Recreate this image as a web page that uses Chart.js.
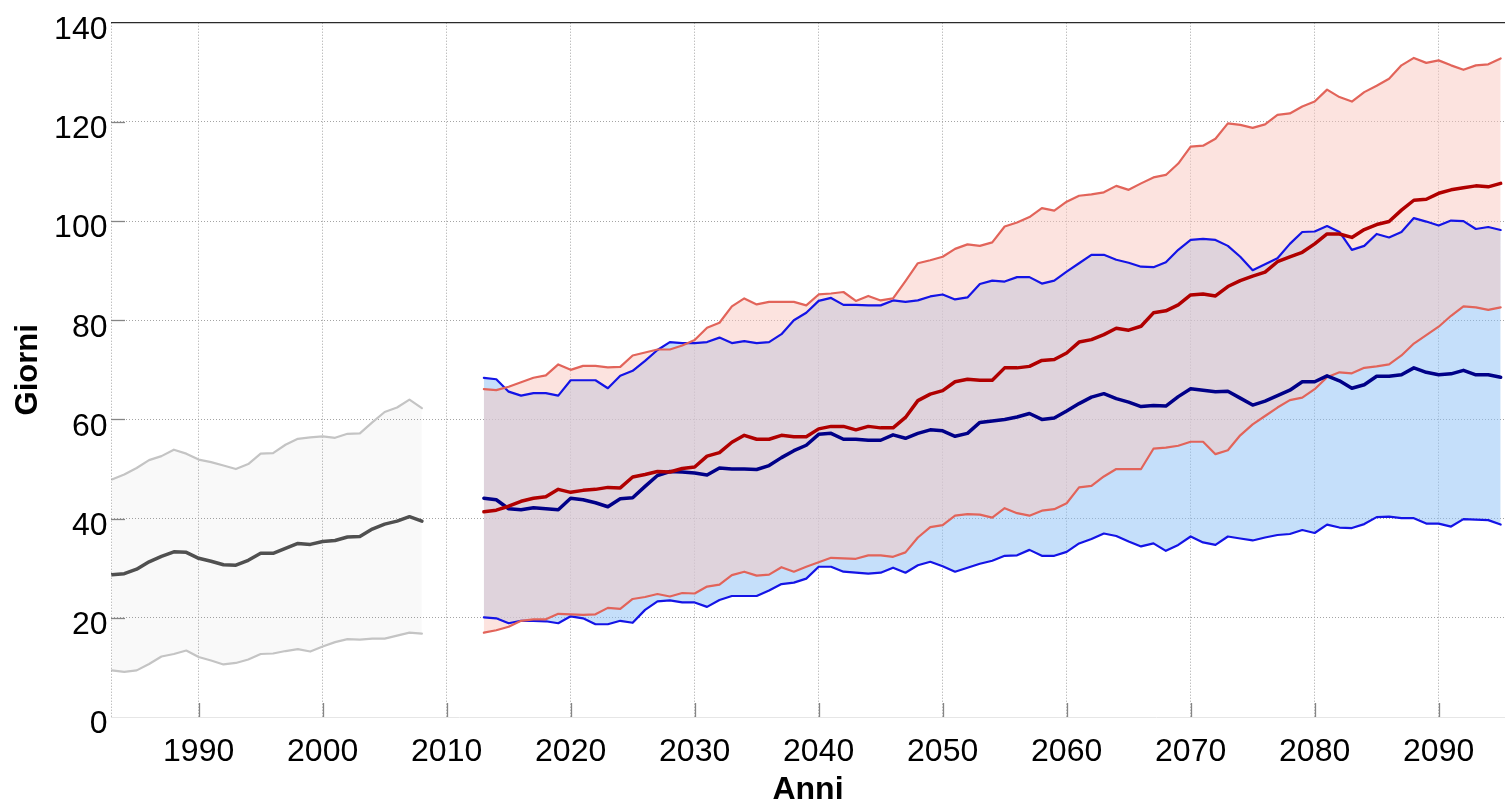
<!DOCTYPE html>
<html>
<head>
<meta charset="utf-8">
<script src="https://cdn.jsdelivr.net/npm/chart.js@4.4.1/dist/chart.umd.min.js"></script>
<style>
    html, body { margin: 0; padding: 0; background: #fff; overflow: hidden; }
    #wrap { position: relative; width: 1505px; height: 803px; }
</style>
</head>
<body>
<div id="wrap"><canvas id="giorniChart"></canvas></div>
<script>
// Observed period 1983-2008
const histStart = 1983, histEnd = 2008;
const histUpper  = [47.9, 48.9, 50.2, 51.8, 52.6, 53.9, 53.1, 51.9, 51.4, 50.7, 50.0, 51.0, 53.1, 53.2, 54.9, 56.1, 56.4, 56.6, 56.3, 57.1, 57.2, 59.4, 61.5, 62.4, 64.0, 62.3];
const histMedian = [28.7, 28.9, 29.8, 31.3, 32.4, 33.3, 33.2, 32.0, 31.4, 30.7, 30.6, 31.6, 33.0, 33.0, 34.0, 35.0, 34.8, 35.4, 35.6, 36.3, 36.4, 37.9, 38.9, 39.5, 40.4, 39.5];
const histLower  = [9.4, 9.1, 9.4, 10.7, 12.2, 12.7, 13.4, 12.1, 11.4, 10.6, 10.9, 11.6, 12.7, 12.8, 13.3, 13.7, 13.2, 14.2, 15.1, 15.7, 15.6, 15.8, 15.8, 16.4, 17.0, 16.8];

// Projections 2013-2095
const projStart = 2013, projEnd = 2095;
const blueUpper = [
    68.4, 68.1, 65.6, 64.8, 65.3, 65.3, 64.8, 67.9, 67.9, 67.9,
    66.3, 68.8, 69.8, 71.8, 74.0, 75.6, 75.4, 75.4, 75.6, 76.5,
    75.4, 75.8, 75.4, 75.6, 77.2, 80.0, 81.5, 83.9, 84.5, 83.1,
    83.1, 83.0, 83.0, 84.0, 83.7, 84.0, 84.8, 85.2, 84.2, 84.6,
    87.3, 88.0, 87.8, 88.7, 88.7, 87.4, 88.0, 89.8, 91.5, 93.2,
    93.2, 92.2, 91.6, 90.8, 90.7, 91.7, 94.2, 96.2, 96.4, 96.2,
    95.0, 92.8, 90.1, 91.3, 92.5, 95.4, 97.8, 97.9, 99.0, 97.8,
    94.2, 95.0, 97.4, 96.7, 97.8, 100.6, 99.9, 99.1, 100.1, 100.0,
    98.4, 98.8, 98.2
];
const blueMedian = [
    44.1, 43.8, 42.0, 41.8, 42.2, 42.0, 41.8, 44.1, 43.8, 43.2,
    42.4, 44.0, 44.2, 46.5, 48.7, 49.5, 49.4, 49.2, 48.8, 50.2,
    50.0, 50.0, 49.9, 50.7, 52.3, 53.7, 54.8, 57.0, 57.2, 56.0,
    56.0, 55.8, 55.8, 56.9, 56.2, 57.2, 57.9, 57.7, 56.6, 57.2,
    59.4, 59.7, 60.0, 60.5, 61.2, 60.0, 60.3, 61.7, 63.2, 64.5,
    65.2, 64.2, 63.5, 62.6, 62.8, 62.7, 64.6, 66.2, 65.9, 65.6,
    65.7, 64.3, 62.9, 63.7, 64.8, 65.9, 67.6, 67.6, 68.8, 67.8,
    66.3, 67.0, 68.7, 68.7, 69.0, 70.4, 69.5, 69.0, 69.2, 69.9,
    69.0, 69.0, 68.5
];
const blueLower = [
    20.1, 19.9, 18.9, 19.4, 19.4, 19.3, 18.9, 20.3, 19.9, 18.7,
    18.7, 19.4, 19.0, 21.6, 23.3, 23.5, 23.1, 23.1, 22.2, 23.6,
    24.4, 24.4, 24.4, 25.5, 26.8, 27.1, 27.9, 30.3, 30.3, 29.3,
    29.1, 28.9, 29.1, 30.1, 29.1, 30.6, 31.3, 30.4, 29.3, 30.1,
    30.9, 31.5, 32.5, 32.6, 33.7, 32.5, 32.5, 33.3, 35.0, 35.9,
    37.0, 36.5, 35.4, 34.4, 35.0, 33.5, 34.7, 36.4, 35.2, 34.7,
    36.4, 36.0, 35.6, 36.2, 36.7, 36.9, 37.7, 37.1, 38.8, 38.2,
    38.1, 38.9, 40.3, 40.4, 40.1, 40.1, 39.0, 39.0, 38.4, 39.9,
    39.8, 39.7, 38.8
];
const redUpper = [
    66.1, 65.9, 66.6, 67.5, 68.4, 68.9, 71.1, 70.0, 70.8, 70.8,
    70.5, 70.6, 72.9, 73.5, 74.1, 74.1, 74.9, 76.0, 78.5, 79.5,
    82.8, 84.4, 83.2, 83.7, 83.7, 83.7, 83.0, 85.2, 85.4, 85.7,
    83.9, 84.9, 84.0, 84.4, 87.9, 91.5, 92.1, 92.8, 94.4, 95.3,
    95.0, 95.7, 98.9, 99.7, 100.8, 102.6, 102.1, 103.9, 105.1, 105.4,
    105.8, 107.1, 106.3, 107.6, 108.8, 109.3, 111.6, 115.0, 115.2, 116.6,
    119.7, 119.4, 118.8, 119.5, 121.4, 121.7, 123.1, 124.1, 126.5, 125.0,
    124.1, 126.0, 127.3, 128.7, 131.4, 132.9, 131.9, 132.4, 131.4, 130.5,
    131.4, 131.6, 132.8
];
const redMedian = [
    41.4, 41.7, 42.5, 43.5, 44.1, 44.4, 45.9, 45.3, 45.7, 45.9,
    46.3, 46.2, 48.4, 48.9, 49.5, 49.4, 50.1, 50.4, 52.6, 53.3,
    55.4, 56.8, 56.0, 56.0, 56.8, 56.5, 56.5, 58.1, 58.6, 58.6,
    57.9, 58.6, 58.3, 58.3, 60.4, 63.8, 65.1, 65.8, 67.6, 68.1,
    67.9, 67.9, 70.4, 70.4, 70.7, 71.9, 72.1, 73.4, 75.6, 76.1,
    77.1, 78.4, 78.0, 78.8, 81.5, 81.9, 83.1, 85.1, 85.3, 84.9,
    86.8, 88.0, 88.9, 89.7, 91.8, 92.8, 93.7, 95.4, 97.4, 97.4,
    96.7, 98.3, 99.3, 99.9, 102.2, 104.2, 104.4, 105.6, 106.3, 106.7,
    107.1, 106.9, 107.6
];
const redLower = [
    17.0, 17.5, 18.2, 19.4, 19.7, 19.7, 20.8, 20.7, 20.6, 20.7,
    22.0, 21.8, 23.8, 24.2, 24.8, 24.3, 25.0, 24.9, 26.3, 26.7,
    28.6, 29.3, 28.5, 28.7, 30.2, 29.3, 30.3, 31.2, 32.1, 32.0,
    31.9, 32.6, 32.6, 32.3, 33.2, 36.2, 38.3, 38.7, 40.6, 40.9,
    40.8, 40.2, 42.1, 41.1, 40.6, 41.6, 41.9, 43.1, 46.3, 46.6,
    48.5, 50.0, 50.0, 50.0, 54.1, 54.3, 54.7, 55.5, 55.5, 53.0,
    53.8, 56.8, 59.0, 60.7, 62.4, 63.9, 64.4, 66.1, 68.5, 69.5,
    69.3, 70.4, 70.7, 71.1, 72.9, 75.3, 77.0, 78.7, 80.9, 82.8,
    82.6, 82.1, 82.6
];

const yTicks = [0, 20, 40, 60, 80, 100, 120, 140];
const xTicks = [1990, 2000, 2010, 2020, 2030, 2040, 2050, 2060, 2070, 2080, 2090];

const fontFamily = "'Liberation Sans', Arial, sans-serif";
const gridColor = '#a4a4a4';

function yearsFrom(start, end) {
    const out = [];
    for (let yr = start; yr <= end; yr++) out.push(yr);
    return out;
}
const histYears = yearsFrom(histStart, histEnd);
const projYears = yearsFrom(projStart, projEnd);

function toPoints(years, values) {
    return years.map((yr, i) => ({ x: yr, y: values[i] }));
}

function lineSet(years, values, color, width, fillTo, fillColor) {
    return {
        data: toPoints(years, values),
        borderColor: color,
        borderWidth: width,
        backgroundColor: fillColor || 'transparent',
        fill: fillTo === undefined ? false : fillTo,
        pointRadius: 0,
        tension: 0,
        borderJoinStyle: 'round',
        borderCapStyle: 'round'
    };
}

// inner ticks, left dotted edge and the top frame line
const frameLines = {
    id: 'frameLines',
    afterDatasetsDraw(chart) {
        const { ctx, chartArea: a, scales } = chart;
        ctx.save();
        ctx.lineWidth = 1;
        ctx.strokeStyle = gridColor;
        ctx.setLineDash([1, 2]);
        ctx.beginPath();
        ctx.moveTo(a.left + 0.5, a.top);
        ctx.lineTo(a.left + 0.5, a.bottom);
        ctx.stroke();
        ctx.setLineDash([]);

        ctx.strokeStyle = '#e6e6e6';
        ctx.beginPath();
        ctx.moveTo(a.left, a.bottom + 0.5);
        ctx.lineTo(a.right, a.bottom + 0.5);
        ctx.stroke();

        ctx.strokeStyle = '#858585';
        ctx.lineWidth = 1.3;
        xTicks.forEach(v => {
            const px = Math.round(scales.x.getPixelForValue(v)) + 0.5;
            ctx.beginPath();
            ctx.moveTo(px, a.bottom);
            ctx.lineTo(px, a.bottom - 14);
            ctx.stroke();
        });
        yTicks.forEach(v => {
            if (v === 0 || v === 140) return;
            const py = Math.round(scales.y.getPixelForValue(v)) + 0.5;
            ctx.beginPath();
            ctx.moveTo(a.left, py);
            ctx.lineTo(a.left + 14, py);
            ctx.stroke();
        });

        ctx.strokeStyle = '#2a2a2a';
        ctx.lineWidth = 1.3;
        ctx.beginPath();
        ctx.moveTo(a.left, a.top);
        ctx.lineTo(a.right, a.top);
        ctx.stroke();
        ctx.restore();
    }
};

document.addEventListener('DOMContentLoaded', function() {
    const ctx = document.getElementById('giorniChart');
    new Chart(ctx.getContext('2d'), {
        type: 'line',
        data: {
            datasets: [
                lineSet(projYears, redMedian, '#b00000', 3.5),
                lineSet(projYears, blueMedian, '#000088', 3.5),
                lineSet(projYears, redUpper, '#e2645a', 2.2, '+1', 'rgba(249, 200, 192, 0.51)'),
                lineSet(projYears, redLower, '#e2645a', 2.2),
                lineSet(projYears, blueUpper, '#1414e6', 2.2, '+1', 'rgba(140, 192, 245, 0.5)'),
                lineSet(projYears, blueLower, '#1414e6', 2.2),
                lineSet(histYears, histMedian, '#505050', 3.5),
                lineSet(histYears, histUpper, '#c4c4c4', 2.2, '+1', 'rgba(0, 0, 0, 0.025)'),
                lineSet(histYears, histLower, '#c4c4c4', 2.2)
            ]
        },
        options: {
            responsive: true,
            maintainAspectRatio: false,
            animation: false,
            layout: { padding: { top: 20, right: 0, left: 0, bottom: 0 } },
            plugins: {
                legend: { display: false },
                tooltip: { enabled: false },
                filler: { drawTime: 'beforeDatasetsDraw' }
            },
            scales: {
                x: {
                    type: 'linear',
                    min: 1982.93,
                    max: 2095.35,
                    afterFit: s => { s.height = 86; },
                    afterBuildTicks: s => { s.ticks = xTicks.map(v => ({ value: v })); },
                    grid: { color: gridColor, lineWidth: 1, drawTicks: false },
                    border: { display: false, dash: [1, 2] },
                    ticks: {
                        autoSkip: false,
                        maxRotation: 0,
                        padding: 16,
                        color: '#000',
                        font: { family: fontFamily, size: 32 },
                        callback: v => String(v)
                    },
                    title: {
                        display: true,
                        text: 'Anni',
                        color: '#000',
                        padding: 0,
                        font: { family: fontFamily, size: 32, weight: 'bold', lineHeight: 0.8 }
                    }
                },
                y: {
                    min: 0,
                    max: 140,
                    afterFit: s => { s.width = 111; },
                    afterBuildTicks: s => { s.ticks = yTicks.map(v => ({ value: v })); },
                    grid: {
                        color: c => (c.tick && c.tick.value === 0) ? 'rgba(0,0,0,0)' : gridColor,
                        lineWidth: 1,
                        drawTicks: false
                    },
                    border: { display: false, dash: [1, 2] },
                    ticks: {
                        padding: 3.5,
                        labelOffset: 7.5,
                        color: '#000',
                        font: { family: fontFamily, size: 32 }
                    },
                    title: {
                        display: true,
                        text: 'Giorni',
                        color: '#000',
                        padding: { top: 10, bottom: 0 },
                        font: { family: fontFamily, size: 31, weight: 'bold' }
                    }
                }
            }
        },
        plugins: [frameLines]
    });
});
</script>
</body>
</html>
